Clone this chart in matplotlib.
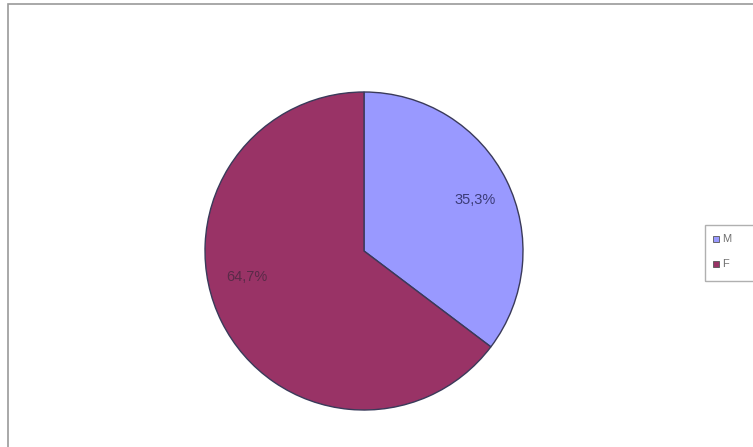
import matplotlib.pyplot as plt
from matplotlib.patches import Rectangle

# share of respondents by sex
labels = ['M', 'F']
shares = [35.3, 64.7]
colors = ['#9999FF', '#993366']
pct_text = ['35,3%', '64,7%']

W, H = 753, 447
fig = plt.figure(figsize=(W / 100, H / 100), dpi=100)
fig.patch.set_facecolor('white')

# chart area frame (runs off the right and bottom edges)
fig.patches.append(Rectangle((8 / W, -0.1), 1.0, (H - 4) / H + 0.1,
                             transform=fig.transFigure, fill=False,
                             edgecolor='#9a9a9a', linewidth=1.2))

# pie centre (364, 251) px, radius 159 px
r = 159
ax = fig.add_axes([(364 - r) / W, (H - 251 - r) / H, 2 * r / W, 2 * r / H])
wedges, _ = ax.pie(shares, colors=colors, startangle=90, counterclock=False,
                   wedgeprops=dict(edgecolor='#3a3a5a', linewidth=1.0))
ax.set_aspect('auto')
ax.set_xlim(-1, 1)
ax.set_ylim(-1, 1)
ax.axis('off')

# percentage labels
fig.text(475 / W, 1 - 200 / H, pct_text[0], ha='center', va='center',
         fontsize=10.5, family='Liberation Sans', color='#3c3c78')
fig.text(247 / W, 1 - 277 / H, pct_text[1], ha='center', va='center',
         fontsize=10.5, family='Liberation Sans', color='#5a2a48')

# legend box
fig.patches.append(Rectangle((705 / W, 1 - 281 / H), 50 / W, 56 / H,
                             transform=fig.transFigure, fill=False,
                             edgecolor='#b0b0b0', linewidth=1.0))
for i, (lab, col) in enumerate(zip(labels, colors)):
    y = 239 + i * 25
    fig.patches.append(Rectangle((713 / W, 1 - (y + 3) / H), 6 / W, 6 / H,
                                 transform=fig.transFigure, facecolor=col,
                                 edgecolor='#555555', linewidth=0.6))
    fig.text(722 / W, 1 - y / H, lab, ha='left', va='center',
             fontsize=8, family='Liberation Sans', color='#707070')

fig.savefig('out.png', dpi=100)
